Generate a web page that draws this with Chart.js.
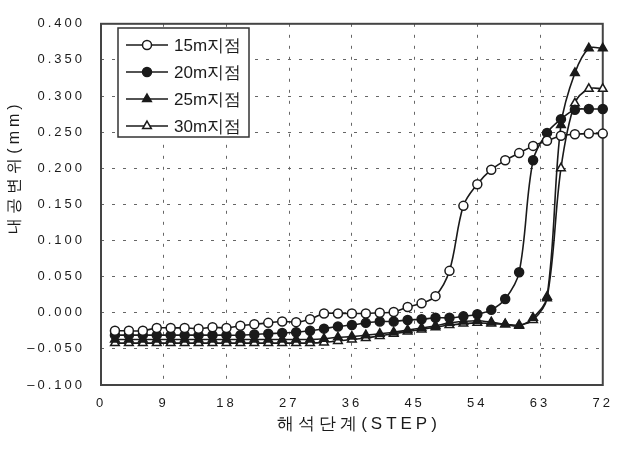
<!DOCTYPE html>
<html>
<head>
<meta charset="utf-8">
<script src="https://cdn.jsdelivr.net/npm/chart.js@4.4.1/dist/chart.umd.min.js"></script>
<style>
  html, body { margin: 0; padding: 0; background: #fff; }
  #wrap { width: 621px; height: 450px; }
</style>
</head>
<body>
<div id="wrap"><canvas id="chart1" width="621" height="450"></canvas></div>
<script>
// steps where points were recorded (every 2nd step)
const steps = [2, 4, 6, 8, 10, 12, 14, 16, 18, 20, 22, 24, 26, 28, 30, 32, 34, 36,
               38, 40, 42, 44, 46, 48, 50, 52, 54, 56, 58, 60, 62, 64, 66, 68, 70, 72];

const seriesNames = ["15m지점", "20m지점", "25m지점", "30m지점"];

const disp15 = [-0.025, -0.025, -0.025, -0.021, -0.021, -0.021, -0.022, -0.020, -0.021, -0.018,
                -0.016, -0.014, -0.012, -0.013, -0.009, -0.001, -0.001, -0.001, -0.001, 0.000,
                0.001, 0.008, 0.013, 0.023, 0.058, 0.148, 0.178, 0.198, 0.211, 0.221,
                0.231, 0.238, 0.245, 0.247, 0.248, 0.248];

const disp20 = [-0.031, -0.031, -0.031, -0.031, -0.031, -0.031, -0.031, -0.031, -0.031, -0.031,
                -0.030, -0.029, -0.028, -0.027, -0.025, -0.022, -0.019, -0.017, -0.014, -0.012,
                -0.012, -0.010, -0.009, -0.007, -0.007, -0.005, -0.002, 0.004, 0.019, 0.056,
                0.211, 0.249, 0.268, 0.281, 0.282, 0.282];

const disp25 = [-0.037, -0.037, -0.037, -0.037, -0.037, -0.037, -0.037, -0.037, -0.037, -0.037,
                -0.037, -0.037, -0.037, -0.037, -0.037, -0.036, -0.034, -0.033, -0.031, -0.029,
                -0.027, -0.024, -0.021, -0.018, -0.014, -0.012, -0.011, -0.013, -0.016, -0.018,
                -0.007, 0.022, 0.260, 0.332, 0.366, 0.366];

const disp30 = [-0.042, -0.042, -0.042, -0.042, -0.042, -0.042, -0.042, -0.042, -0.042, -0.042,
                -0.042, -0.042, -0.042, -0.042, -0.042, -0.041, -0.039, -0.037, -0.035, -0.032,
                -0.029, -0.026, -0.023, -0.020, -0.017, -0.015, -0.014, -0.015, -0.016, -0.017,
                -0.010, 0.020, 0.200, 0.290, 0.310, 0.310];

const xTicks = [0, 9, 18, 27, 36, 45, 54, 63, 72];
const yTicks = [-0.100, -0.050, 0.000, 0.050, 0.100, 0.150, 0.200, 0.250, 0.300, 0.350, 0.400];

const xTitle = "해석단계(STEP)";
const yTitle = "내공변위(mm)";

const FONT = "'Liberation Sans', Arial, sans-serif";
const INK = "#1a1a1a";

function points(vals) {
    return steps.map(function (s, i) { return { x: s, y: vals[i] }; });
}

function makeSet(label, vals, style, filled) {
    return {
        label: label,
        data: points(vals),
        borderColor: INK,
        borderWidth: 1.6,
        pointStyle: style,
        pointRadius: style === 'triangle' ? 5 : 4.5,
        pointBorderWidth: 1.5,
        pointBorderColor: INK,
        pointBackgroundColor: filled ? INK : '#ffffff',
        tension: 0.35,
        clip: false
    };
}

// frame, legend box and axis titles drawn on the canvas
const decor = {
    id: 'decor',
    beforeDraw(chart) {
        chart.ctx.letterSpacing = '3px';
    },
    beforeDatasetsDraw(chart) {
        const a = chart.chartArea;
        const ctx = chart.ctx;
        ctx.save();
        ctx.strokeStyle = '#444';
        ctx.lineWidth = 2;
        ctx.strokeRect(a.left, a.top, a.right - a.left, a.bottom - a.top);
        ctx.restore();
    },
    afterDraw(chart) {
        const ctx = chart.ctx;
        ctx.save();

        // legend
        const bx = 118, by = 28, bw = 131, bh = 109;
        ctx.fillStyle = '#fff';
        ctx.fillRect(bx, by, bw, bh);
        ctx.strokeStyle = '#333';
        ctx.lineWidth = 1.5;
        ctx.strokeRect(bx, by, bw, bh);

        const rowY = [45, 72, 99, 126];
        chart.data.datasets.forEach(function (ds, i) {
            const y = rowY[i];
            ctx.strokeStyle = INK;
            ctx.lineWidth = 1.6;
            ctx.beginPath();
            ctx.moveTo(126, y);
            ctx.lineTo(168, y);
            ctx.stroke();
            ctx.fillStyle = ds.pointBackgroundColor;
            ctx.lineWidth = 1.5;
            Chart.helpers.drawPoint(ctx, {
                pointStyle: ds.pointStyle,
                radius: ds.pointRadius,
                borderWidth: 1.5,
                rotation: 0
            }, 147, y);
            ctx.letterSpacing = '0px';
            ctx.fillStyle = INK;
            ctx.font = "17px " + FONT;
            ctx.textAlign = 'left';
            ctx.textBaseline = 'middle';
            ctx.fillText(ds.label, 174, y + 1);
        });

        // axis titles
        ctx.fillStyle = INK;
        ctx.textAlign = 'center';
        ctx.textBaseline = 'middle';
        ctx.font = "17px " + FONT;
        ctx.letterSpacing = '4px';
        ctx.fillText(xTitle, 359, 424);

        ctx.translate(15, 167);
        ctx.rotate(-Math.PI / 2);
        ctx.font = "16px " + FONT;
        ctx.letterSpacing = '4px';
        ctx.fillText(yTitle, 0, 0);
        ctx.restore();
    }
};

document.addEventListener("DOMContentLoaded", function () {

    const ctx1 = document.getElementById("chart1");

    new Chart(ctx1, {
        type: 'line',
        data: {
            datasets: [
                makeSet(seriesNames[0], disp15, 'circle', false),
                makeSet(seriesNames[1], disp20, 'circle', true),
                makeSet(seriesNames[2], disp25, 'triangle', true),
                makeSet(seriesNames[3], disp30, 'triangle', false)
            ]
        },
        options: {
            responsive: false,
            animation: false,
            layout: {
                padding: { top: 15, right: 16, bottom: 0, left: 0 }
            },
            plugins: {
                legend: { display: false },
                tooltip: { enabled: false }
            },
            scales: {
                x: {
                    type: 'linear',
                    min: 0,
                    max: 72,
                    afterFit: function (scale) { scale.height = 65; },
                    afterBuildTicks: function (scale) {
                        scale.ticks = xTicks.map(function (v) { return { value: v }; });
                    },
                    ticks: {
                        padding: 11,
                        color: INK,
                        maxRotation: 0,
                        font: { family: FONT, size: 13 }
                    },
                    grid: {
                        color: '#666',
                        lineWidth: 1,
                        drawTicks: false
                    },
                    border: { display: false, dash: [3, 8] }
                },
                y: {
                    min: -0.1,
                    max: 0.4,
                    afterFit: function (scale) { scale.width = 101; },
                    afterBuildTicks: function (scale) {
                        scale.ticks = yTicks.map(function (v) { return { value: v }; });
                    },
                    ticks: {
                        padding: 16,
                        color: INK,
                        font: { family: FONT, size: 13 },
                        callback: function (v) {
                            if (Math.abs(v) < 1e-9) v = 0;
                            return (v < 0 ? '\u2013' : '') + Math.abs(v).toFixed(3);
                        }
                    },
                    grid: {
                        color: '#666',
                        lineWidth: 1,
                        drawTicks: false
                    },
                    border: { display: false, dash: [3, 8] }
                }
            }
        },
        plugins: [decor]
    });

});
</script>
</body>
</html>
